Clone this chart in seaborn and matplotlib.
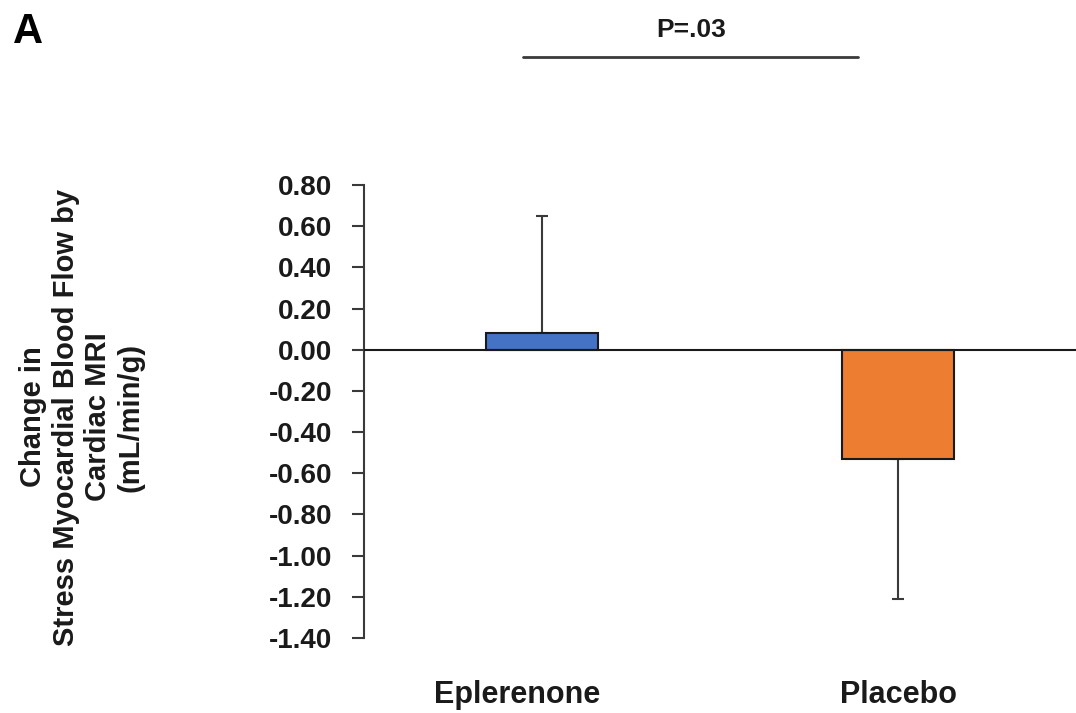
import matplotlib
matplotlib.use("Agg")
import matplotlib.pyplot as plt
import matplotlib.transforms as mtransforms
import pandas as pd
import seaborn as sns

# data
groups = ["Eplerenone", "Placebo"]
change = [0.08, -0.53]
err_up = [0.57, 0.0]
err_down = [0.0, 0.68]
yticks = [0.80, 0.60, 0.40, 0.20, 0.00, -0.20, -0.40, -0.60, -0.80, -1.00, -1.20, -1.40]
p_text = "P=.03"
panel = "A"
ylabel = "Change in\nStress Myocardial Blood Flow by\nCardiac MRI\n(mL/min/g)"

sns.set_style("white")
plt.rcParams["font.family"] = ["Liberation Sans", "DejaVu Sans"]
plt.rcParams["font.weight"] = "bold"
plt.rcParams["axes.unicode_minus"] = False

df = pd.DataFrame({"group": groups, "change": change})

fig = plt.figure(figsize=(10.76, 7.13), dpi=100)
ax = fig.add_axes([0.3383, 0.1052, 0.6617, 0.6353])

sns.barplot(data=df, x="group", y="change", hue="group",
            palette=["#4472C4", "#ED7D31"], saturation=1, width=0.313,
            edgecolor="#1a1a1a", linewidth=1.5, errorbar=None,
            legend=False, ax=ax, zorder=3)

ax.errorbar(x=range(len(groups)), y=change, yerr=[err_down, err_up],
            fmt="none", ecolor="#3a3a3a", elinewidth=1.5, capsize=4.3,
            capthick=1.5, zorder=2)

ax.axhline(0, color="#1a1a1a", lw=1.5, zorder=4)

ax.set_xlim(-0.5, 1.5)
ax.set_ylim(-1.40, 0.80)
ax.set_yticks(yticks)
ax.set_yticklabels([f"{v:.2f}" for v in yticks])

for s in ["top", "right", "bottom"]:
    ax.spines[s].set_visible(False)
ax.spines["left"].set_color("#3a3a3a")
ax.spines["left"].set_linewidth(1.5)

ax.tick_params(axis="y", direction="out", length=9, width=1.5,
               color="#3a3a3a", labelsize=20, pad=14, left=True)
ax.tick_params(axis="x", length=0, labelsize=22, pad=30)
for lab in ax.get_yticklabels() + ax.get_xticklabels():
    lab.set_fontweight("bold")
    lab.set_color("#1a1a1a")

# first category label sits a little left of its bar in the original
lab0 = ax.get_xticklabels()[0]
lab0.set_transform(lab0.get_transform() +
                   mtransforms.ScaledTranslation(-25 / 100, 0, fig.dpi_scale_trans))

ax.set_xlabel("")
ax.set_ylabel("")

fig.text(0.076, 0.415, ylabel, rotation=90, ha="center", va="center",
         multialignment="center", fontsize=21, fontweight="bold", color="#1a1a1a")

# significance bracket
ax.plot([-0.054, 0.887], [1.42, 1.42], color="#3a3a3a", lw=2, clip_on=False)
fig.text(0.642, 0.958, p_text, ha="center", va="center",
         fontsize=19, fontweight="bold", color="#1a1a1a")
fig.text(0.012, 0.955, panel, ha="left", va="center",
         fontsize=30, fontweight="bold", color="#000000")

fig.savefig("out.png", dpi=100)
